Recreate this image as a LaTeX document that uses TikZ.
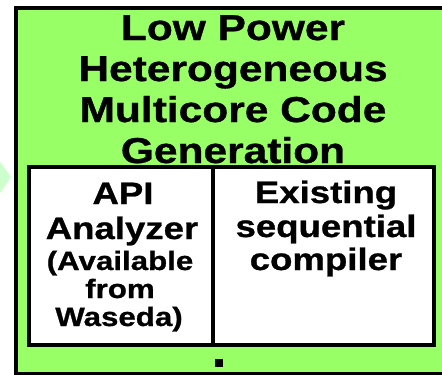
\documentclass[tikz,border=0pt]{standalone}
\usepackage{fontspec}
\usepackage{graphicx}
\setmainfont[BoldFeatures={FakeBold=0.8}]{Liberation Sans}
\definecolor{panelgreen}{HTML}{99FF66}
\definecolor{palegreen}{HTML}{CCFFCC}
\newcommand{\wide}[1]{\scalebox{1.18}[1]{#1}}
\tikzset{
  txt/.style={anchor=base, inner sep=0pt, font=\bfseries\fontsize{#1}{#1}\selectfont},
  frame/.style={draw=black, line width=4pt}
}
\begin{document}
\begin{tikzpicture}[x=1pt,y=-1pt]
\useasboundingbox (0,0) rectangle (442,375);
% pale arrow tip on the left
\fill[palegreen] (-2,159) -- (11,177) -- (-2,196) -- cycle;
% outer panel
\draw[frame, fill=panelgreen] (16,8) rectangle (450,374);
% inner table
\draw[frame, fill=white] (29,167) rectangle (434,345);
\coordinate (dtop) at (213,167);
\coordinate (dbot) at (213,345);
\draw[line width=4pt] (dtop) -- (dbot);
% small square
\fill[black] (215,359) rectangle (223,367);
% title
\node[txt=36] (t1) at (233,40) {\wide{Low Power}};
\node[txt=36] (t2) at (233,81) {\wide{Heterogeneous}};
\node[txt=36] (t3) at (233,122) {\wide{Multicore Code}};
\node[txt=36] (t4) at (233,163) {\wide{Generation}};
% left cell
\node[txt=31] (a1) at (123,204) {\wide{API}};
\node[txt=31] (a2) at (122,239) {\wide{Analyzer}};
\node[txt=26.5] (a3) at (120,270) {\wide{(Available}};
\node[txt=26.5] (a4) at (120,298) {\wide{from}};
\node[txt=26.5] (a5) at (119,326) {\wide{Waseda)}};
% right cell
\node[txt=31] (e1) at (326,203) {\wide{Existing}};
\node[txt=31] (e2) at (326,237) {\wide{sequential}};
\node[txt=31] (e3) at (326,270) {\wide{compiler}};
\end{tikzpicture}
\end{document}
